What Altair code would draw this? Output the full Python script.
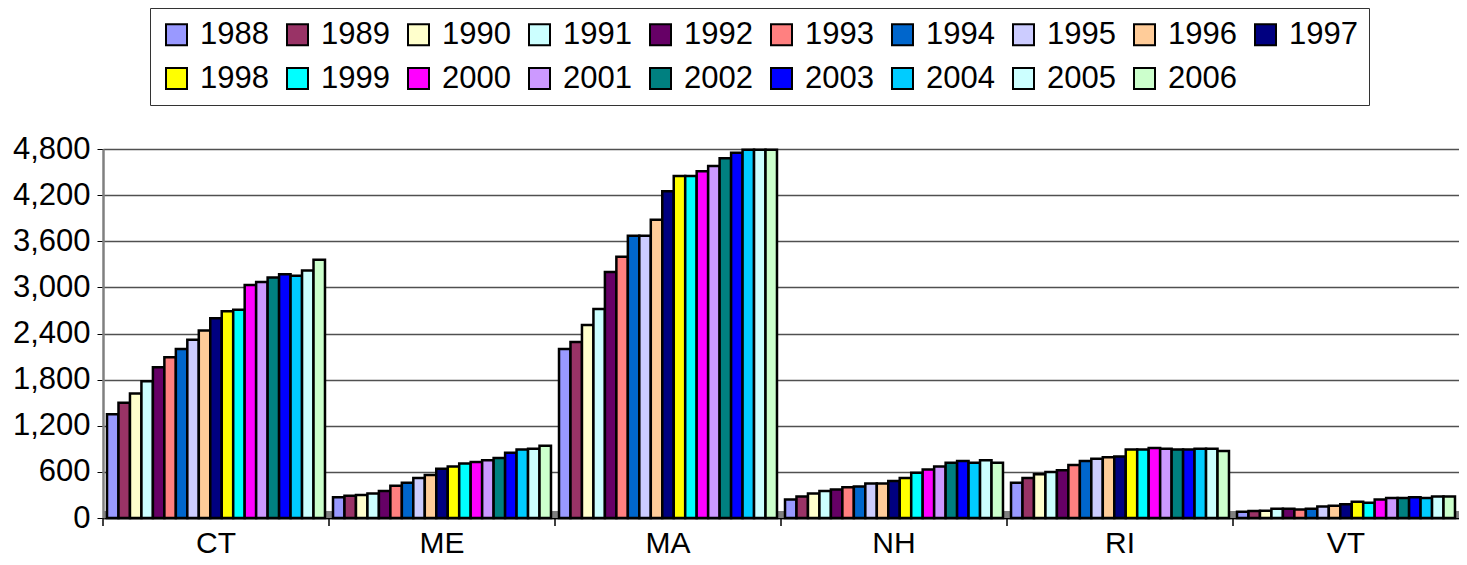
import altair as alt
import pandas as pd

states = ["CT", "ME", "MA", "NH", "RI", "VT"]
years = ["1988", "1989", "1990", "1991", "1992", "1993", "1994", "1995", "1996", "1997",
         "1998", "1999", "2000", "2001", "2002", "2003", "2004", "2005", "2006"]

ct = [1350, 1500, 1620, 1780, 1960, 2090, 2200, 2320, 2440, 2600, 2690, 2710, 3030, 3070, 3130, 3170, 3150, 3220, 3360]
me = [270, 290, 300, 320, 350, 420, 460, 520, 560, 640, 670, 710, 730, 750, 780, 850, 890, 900, 940]
ma = [2200, 2290, 2510, 2720, 3200, 3400, 3670, 3670, 3880, 4250, 4450, 4450, 4510, 4580, 4680, 4750, 4790, 4790, 4790]
nh = [240, 280, 320, 350, 370, 400, 410, 450, 450, 480, 520, 590, 630, 670, 720, 740, 720, 750, 720]
ri = [460, 520, 570, 600, 620, 690, 740, 770, 790, 800, 890, 890, 910, 900, 890, 890, 900, 900, 870]
vt = [80, 90, 95, 120, 120, 110, 120, 150, 160, 180, 210, 200, 240, 260, 260, 270, 260, 280, 280]

colors = ["#9999FF", "#993366", "#FFFFCC", "#CCFFFF", "#660066", "#FF8080", "#0066CC",
          "#CCCCFF", "#FFCC99", "#000080", "#FFFF00", "#00FFFF", "#FF00FF", "#CC99FF",
          "#008080", "#0000FF", "#00CCFF", "#CCFFFF", "#CCFFCC"]

y_ticks = [0, 600, 1200, 1800, 2400, 3000, 3600, 4200, 4800]

series = {"CT": ct, "ME": me, "MA": ma, "NH": nh, "RI": ri, "VT": vt}
rows = []
for s in states:
    for yr, v in zip(years, series[s]):
        rows.append({"state": s, "year": yr, "value": v})
df = pd.DataFrame(rows)

W = 1356
H = 369

xscale = alt.Scale(domain=states, paddingInner=0, paddingOuter=0)

floor = alt.Chart(alt.Data(values=[{"a": 1}])).mark_rect(color="#808080").encode(
    x=alt.value(0), x2=alt.value(W), y=alt.value(H - 7), y2=alt.value(H)
)

bars = alt.Chart(df).mark_bar(stroke="black", strokeWidth=2.5).encode(
    x=alt.X("state:N", sort=states, scale=xscale,
            axis=alt.Axis(title=None, labelAngle=0, ticks=False, tickSize=0,
                          labelFontSize=30, labelPadding=10, labelColor="black",
                          domainColor="black", domainWidth=1.5)),
    xOffset=alt.XOffset("year:N", sort=years,
                        scale=alt.Scale(domain=years, paddingInner=0, paddingOuter=0.35)),
    y=alt.Y("value:Q", scale=alt.Scale(domain=[0, 4800], nice=False),
            axis=alt.Axis(title=None, values=y_ticks, format=",.0f", labelFontSize=31,
                          labelColor="black", labelPadding=7, tickSize=6,
                          tickColor="black", domainColor="#808080", domainWidth=2.5,
                          grid=True, gridColor="#505050", gridWidth=1.5)),
    color=alt.Color("year:N", sort=years, scale=alt.Scale(domain=years, range=colors),
                    legend=alt.Legend(title=None, orient="none", legendX=47, legendY=-141,
                                      direction="horizontal", columns=10,
                                      padding=11, strokeColor="#333333", fillColor="white",
                                      labelFontSize=31, labelColor="black", labelOffset=8,
                                      symbolType="square", symbolSize=441,
                                      symbolStrokeColor="black", symbolStrokeWidth=2,
                                      columnPadding=13, rowPadding=12)),
)

ticks = alt.Chart(pd.DataFrame({"state": states})).mark_rule(color="black", strokeWidth=1.5).encode(
    x=alt.X("state:N", sort=states, scale=xscale, bandPosition=0),
    y=alt.value(H),
    y2=alt.value(H + 8),
)

chart = alt.layer(floor, bars, ticks).properties(
    width=W, height=H,
    autosize=alt.AutoSizeParams(type="none"),
    padding={"left": 95, "top": 141, "right": 0, "bottom": 39},
).configure(font="Liberation Sans").configure_view(stroke=None)

chart.save("out.html", embed_options={"renderer": "svg", "actions": False})
